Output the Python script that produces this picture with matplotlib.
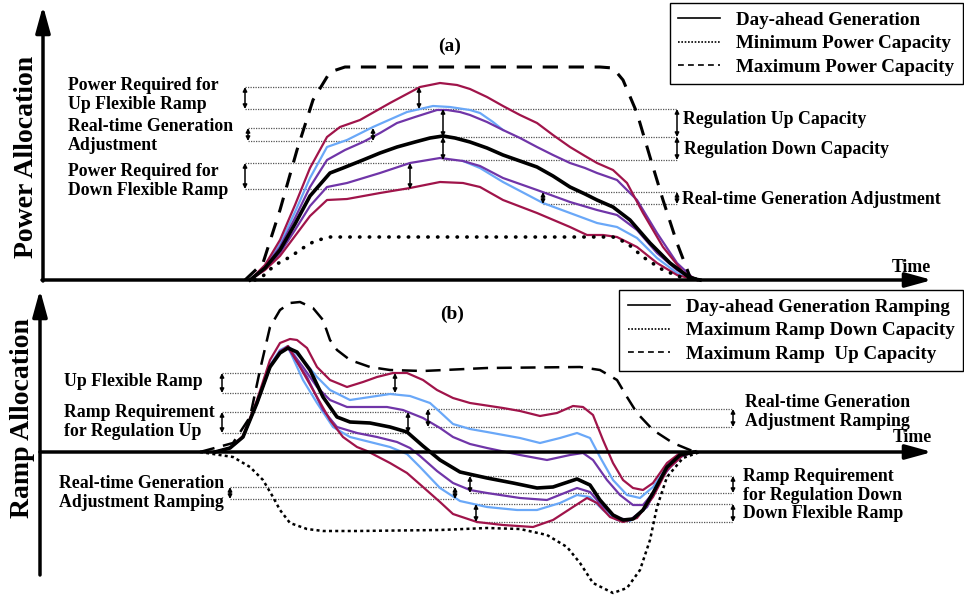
import matplotlib
matplotlib.use("Agg")
import matplotlib.pyplot as plt
from matplotlib.lines import Line2D

plt.rcParams['font.family'] = ['Liberation Serif', 'DejaVu Serif']
plt.rcParams['font.weight'] = 'bold'

RED = '#a0144a'
BLUE = '#6aa8f8'
PURPLE = '#7035a8'

# ---- panel (a): power allocation (figure pixel units) ----
a_max_x = [245, 263, 280, 297, 313, 330, 345, 400, 500, 600, 613, 623, 637, 650, 663, 677, 690, 700]
a_max_y = [280, 263, 210, 150, 100, 72, 67, 67, 67, 67, 68, 80, 113, 157, 200, 243, 277, 280]

a_min_x = [255, 263, 275, 290, 303, 313, 322, 330, 400, 500, 600, 613, 627, 643, 663, 683, 697]
a_min_y = [280, 276, 265, 257, 248, 242, 239, 237, 237, 237, 237, 237, 243, 257, 270, 278, 280]

a_blk_x = [250, 265, 280, 295, 310, 330, 343, 363, 380, 397, 415, 430, 443, 455, 470, 487, 503, 520,
           537, 553, 570, 585, 597, 613, 630, 650, 670, 690, 700]
a_blk_y = [280, 268, 250, 224, 196, 173, 168, 160, 153, 147, 142, 138, 136, 138, 142, 148, 155, 161,
           167, 176, 187, 194, 200, 207, 220, 243, 263, 278, 280]

a_red_up_x = [250, 265, 280, 295, 310, 327, 340, 360, 390, 420, 440, 457, 470, 487, 503, 520, 537,
              553, 570, 585, 597, 613, 627, 643, 663, 683, 697]
a_red_up_y = [280, 265, 240, 205, 168, 137, 127, 120, 103, 87, 83, 85, 89, 97, 106, 115, 123,
              135, 147, 156, 163, 170, 183, 213, 247, 272, 280]

a_blue_up_x = [250, 265, 280, 295, 310, 327, 347, 373, 407, 433, 450, 470, 480, 493, 503]
a_blue_up_y = [280, 266, 244, 212, 178, 147, 140, 127, 112, 106, 107, 110, 113, 122, 130]

a_pur_up_x = [250, 265, 280, 295, 310, 327, 345, 363, 380, 397, 415, 437, 447, 460, 470, 487, 503,
              520, 537, 553, 570, 585, 597, 617, 637, 657, 677, 693, 700]
a_pur_up_y = [280, 267, 247, 218, 187, 160, 150, 142, 133, 123, 117, 110, 110, 112, 115, 122, 130,
              138, 147, 155, 163, 168, 173, 180, 200, 233, 263, 278, 280]

a_pur_dn_x = [250, 265, 280, 295, 310, 327, 347, 380, 410, 440, 463, 480, 503, 537, 570, 597, 617,
              637, 657, 677, 693, 700]
a_pur_dn_y = [280, 269, 253, 230, 206, 187, 183, 173, 163, 158, 161, 166, 178, 190, 202, 210, 215,
              230, 253, 270, 279, 280]

a_blue_dn_x = [463, 480, 503, 543, 570, 597, 617, 637, 657, 677, 693, 700]
a_blue_dn_y = [161, 168, 182, 203, 213, 223, 227, 238, 258, 273, 279, 280]

a_red_dn_x = [250, 265, 280, 295, 310, 327, 347, 380, 410, 440, 463, 480, 503, 537, 570, 587, 603,
              617, 637, 657, 677, 697]
a_red_dn_y = [280, 270, 256, 236, 216, 200, 199, 193, 188, 182, 183, 187, 200, 213, 227, 235, 235,
              237, 247, 263, 275, 280]

# ---- panel (b): ramp allocation ----
b_max_x = [200, 233, 250, 260, 270, 280, 290, 300, 313, 323, 330, 337, 350, 370, 390, 423, 487,
           580, 600, 617, 627, 637, 653, 673, 690, 697]
b_max_y = [452, 443, 417, 370, 327, 310, 303, 302, 308, 320, 340, 350, 360, 367, 370, 371, 368,
           367, 370, 380, 397, 413, 430, 443, 450, 452]

b_min_x = [200, 233, 250, 263, 273, 280, 290, 307, 323, 357, 440, 487, 520, 547, 567, 580, 593,
           613, 627, 640, 650, 657, 667, 683, 700]
b_min_y = [452, 457, 467, 480, 497, 510, 523, 529, 531, 531, 530, 528, 529, 535, 547, 563, 583,
           593, 588, 570, 540, 507, 477, 458, 452]

b_blk_x = [215, 230, 243, 257, 270, 280, 288, 297, 310, 323, 337, 350, 370, 390, 407, 423, 440, 460,
           487, 513, 537, 553, 577, 590, 600, 613, 623, 633, 643, 653, 667, 680, 695]
b_blk_y = [452, 448, 437, 403, 367, 353, 348, 352, 370, 397, 417, 422, 423, 427, 432, 446, 460, 472,
           478, 483, 488, 487, 479, 485, 500, 515, 520, 519, 510, 493, 467, 455, 452]

b_red_up_x = [215, 230, 243, 257, 270, 280, 290, 297, 307, 317, 330, 347, 363, 377, 393, 407, 423,
              437, 453, 470, 503, 520, 540, 557, 573, 583, 593, 603, 613, 623, 633, 643, 653, 667,
              680, 695]
b_red_up_y = [452, 448, 436, 400, 360, 343, 339, 340, 348, 367, 380, 387, 382, 377, 373, 373, 380,
              390, 398, 403, 408, 411, 416, 413, 406, 407, 415, 440, 463, 480, 488, 490, 483, 463,
              453, 452]

b_blue_up_x = [215, 230, 243, 257, 270, 280, 288, 303, 317, 330, 350, 370, 390, 410, 430, 440, 453,
               470, 487, 520, 540, 560, 577, 590, 600, 613, 627, 640, 653, 667, 683, 695]
b_blue_up_y = [452, 448, 437, 402, 365, 350, 346, 360, 377, 390, 400, 397, 394, 396, 403, 412, 424,
               429, 432, 438, 443, 438, 433, 438, 457, 480, 495, 498, 487, 467, 453, 452]

b_pur_up_x = [215, 230, 243, 257, 270, 280, 288, 303, 317, 330, 347, 367, 387, 403, 423, 440, 453,
              470, 487, 520, 547, 570, 583, 593, 607, 620, 633, 643, 653, 667, 683, 695]
b_pur_up_y = [452, 448, 437, 403, 366, 351, 347, 367, 387, 400, 407, 407, 407, 410, 418, 428, 437,
              444, 448, 455, 460, 455, 453, 460, 480, 495, 505, 505, 493, 470, 455, 452]

b_pur_dn_x = [215, 230, 243, 257, 270, 280, 288, 307, 323, 337, 357, 377, 397, 410, 420, 437, 453,
              470, 487, 520, 547, 577, 590, 603, 617, 630, 647, 660, 677, 693]
b_pur_dn_y = [452, 448, 437, 403, 367, 352, 348, 377, 410, 427, 433, 437, 442, 448, 456, 471, 483,
              490, 493, 498, 500, 488, 492, 507, 518, 520, 507, 480, 458, 452]

b_blue_dn_x = [215, 230, 243, 257, 270, 280, 288, 303, 317, 333, 350, 370, 390, 407, 420, 440, 460,
               487, 517, 537, 560, 577, 590, 603, 617, 630, 647, 660, 677, 693]
b_blue_dn_y = [452, 448, 437, 403, 367, 352, 347, 380, 403, 427, 437, 442, 447, 454, 467, 488, 501,
               507, 510, 510, 503, 495, 497, 510, 520, 521, 507, 480, 458, 452]

b_red_dn_x = [215, 230, 243, 257, 270, 280, 288, 300, 317, 330, 343, 357, 367, 390, 407, 423, 440,
              453, 477, 503, 533, 553, 573, 587, 597, 610, 623, 637, 653, 667, 683, 697]
b_red_dn_y = [452, 448, 437, 403, 367, 352, 346, 367, 397, 420, 437, 447, 451, 463, 473, 487, 502,
              514, 522, 525, 527, 520, 507, 498, 503, 517, 522, 518, 497, 470, 455, 452]

# guide lines: (y, x_start, x_end) and double arrows: (x, y_top, y_bottom)
a_guides = [(87, 245, 420), (109, 245, 677), (128, 248, 373), (141, 248, 373), (163, 245, 410),
            (189, 245, 410), (137, 443, 677), (160, 443, 677), (192, 543, 677), (204, 543, 677)]
a_arrows = [(245, 87, 109), (419, 87, 109), (248, 128, 141), (373, 128, 141), (245, 163, 189),
            (410, 163, 189), (443, 109, 137), (443, 137, 160), (677, 109, 137), (677, 137, 160),
            (543, 192, 204), (677, 192, 204)]
b_guides = [(373, 222, 395), (393, 222, 395), (412, 222, 408), (433, 222, 408), (409, 428, 733),
            (427, 428, 733), (487, 230, 455), (499, 230, 455), (476, 470, 733), (493, 470, 733),
            (504, 476, 733), (522, 476, 733)]
b_arrows = [(222, 373, 393), (395, 373, 393), (222, 412, 433), (408, 412, 433), (428, 409, 427),
            (733, 409, 427), (230, 487, 499), (455, 487, 499), (470, 476, 493), (733, 476, 493),
            (476, 504, 522), (733, 504, 522)]

# annotation labels: (x, y, text)
a_labels = [(68, 95, 'Power Required for\nUp Flexible Ramp'),
            (68, 136, 'Real-time Generation\nAdjustment'),
            (68, 181, 'Power Required for\nDown Flexible Ramp'),
            (683, 120, 'Regulation Up Capacity'),
            (684, 150, 'Regulation Down Capacity'),
            (682, 200, 'Real-time Generation Adjustment')]
b_labels = [(64, 382, 'Up Flexible Ramp'),
            (64, 422, 'Ramp Requirement\nfor Regulation Up'),
            (59, 493, 'Real-time Generation\nAdjustment Ramping'),
            (745, 412, 'Real-time Generation\nAdjustment Ramping'),
            (743, 486, 'Ramp Requirement\nfor Regulation Down'),
            (743, 514, 'Down Flexible Ramp')]

fig = plt.figure(figsize=(9.64, 5.99), dpi=100)
ax = fig.add_axes([0, 0, 1, 1])
ax.set_xlim(0, 964)
ax.set_ylim(599, 0)
ax.axis('off')


def draw_guides(guides, arrows):
    for y, xs, xe in guides:
        ax.plot([xs, xe], [y, y], color='#555555', lw=0.9, ls=(0, (1, 1)))
    for x, yt, yb in arrows:
        ax.annotate('', xy=(x, yt), xytext=(x, yb),
                    arrowprops=dict(arrowstyle='<|-|>', color='black', lw=1.1,
                                    mutation_scale=6, shrinkA=0, shrinkB=0))


axis_kw = dict(arrowstyle='-|>,head_length=0.8,head_width=0.22', color='black', lw=2.5,
               mutation_scale=20, shrinkA=0)
ax.annotate('', xy=(935, 280), xytext=(42, 280), arrowprops=axis_kw)
ax.annotate('', xy=(43, 3), xytext=(43, 281), arrowprops=axis_kw)
ax.annotate('', xy=(935, 452), xytext=(40, 452), arrowprops=axis_kw)
ax.annotate('', xy=(40, 287), xytext=(40, 575), arrowprops=axis_kw)

draw_guides(a_guides, a_arrows)
draw_guides(b_guides, b_arrows)

# panel (a) curves
ax.plot(a_blue_up_x, a_blue_up_y, color=BLUE, lw=1.6)
ax.plot(a_blue_dn_x, a_blue_dn_y, color=BLUE, lw=1.6)
ax.plot(a_pur_up_x, a_pur_up_y, color=PURPLE, lw=1.6)
ax.plot(a_pur_dn_x, a_pur_dn_y, color=PURPLE, lw=1.6)
ax.plot(a_red_up_x, a_red_up_y, color=RED, lw=1.6)
ax.plot(a_red_dn_x, a_red_dn_y, color=RED, lw=1.6)
ax.plot(a_blk_x, a_blk_y, color='black', lw=2.6)
ax.plot(a_max_x, a_max_y, color='black', lw=2.2, ls=(0, (5, 3.5)))
ax.plot(a_min_x, a_min_y, color='black', lw=2.6, ls=(0, (0.1, 2.6)), dash_capstyle='round')

# panel (b) curves
ax.plot(b_blue_up_x, b_blue_up_y, color=BLUE, lw=1.6)
ax.plot(b_blue_dn_x, b_blue_dn_y, color=BLUE, lw=1.6)
ax.plot(b_pur_up_x, b_pur_up_y, color=PURPLE, lw=1.6)
ax.plot(b_pur_dn_x, b_pur_dn_y, color=PURPLE, lw=1.6)
ax.plot(b_red_up_x, b_red_up_y, color=RED, lw=1.6)
ax.plot(b_red_dn_x, b_red_dn_y, color=RED, lw=1.6)
ax.plot(b_blk_x, b_blk_y, color='black', lw=2.6)
ax.plot(b_max_x, b_max_y, color='black', lw=1.8, ls=(0, (6, 3.5)))
ax.plot(b_min_x, b_min_y, color='black', lw=1.8, ls=(0, (1.2, 1.3)))

for x, y, s in a_labels + b_labels:
    ax.text(x, y, s, fontsize=12.8, fontweight='bold', ha='left', va='center', linespacing=1.12)

ax.text(450, 46, '(a)', fontsize=14, fontweight='bold', ha='center', va='center')
ax.text(452, 314, '(b)', fontsize=14, fontweight='bold', ha='center', va='center')
ax.text(911, 267, 'Time', fontsize=12.8, fontweight='bold', ha='center', va='center')
ax.text(912, 438, 'Time', fontsize=12.8, fontweight='bold', ha='center', va='center')
ax.text(27, 157, 'Power Allocation', fontsize=20, fontweight='bold', rotation=90,
        ha='center', va='center')
ax.text(23, 418, 'Ramp Allocation', fontsize=20, fontweight='bold', rotation=90,
        ha='center', va='center')

# legends
leg_a_labels = ['Day-ahead Generation', 'Minimum Power Capacity', 'Maximum Power Capacity']
leg_b_labels = ['Day-ahead Generation Ramping', 'Maximum Ramp Down Capacity',
                'Maximum Ramp  Up Capacity']
handles = [Line2D([], [], color='black', lw=1.2),
           Line2D([], [], color='black', lw=1.2, ls=(0, (1, 1))),
           Line2D([], [], color='black', lw=1.2, ls=(0, (3.5, 2.5)))]

leg_kw = dict(prop={'family': 'Liberation Serif', 'weight': 'bold', 'size': 13.7},
              frameon=True, fancybox=False, edgecolor='black', framealpha=1,
              handlelength=2.2, handletextpad=0.85, labelspacing=0.32, borderpad=0.45,
              borderaxespad=0)
leg_a = ax.legend(handles, leg_a_labels, loc='upper right',
                  bbox_to_anchor=(963 / 964, 1 - 3 / 599), **leg_kw)
leg_a.get_frame().set_linewidth(1.0)
ax.add_artist(leg_a)
leg_b = ax.legend(handles, leg_b_labels, loc='upper right',
                  bbox_to_anchor=(963 / 964, 1 - 290 / 599), **leg_kw)
leg_b.get_frame().set_linewidth(1.0)

fig.savefig('out.png', dpi=100)
